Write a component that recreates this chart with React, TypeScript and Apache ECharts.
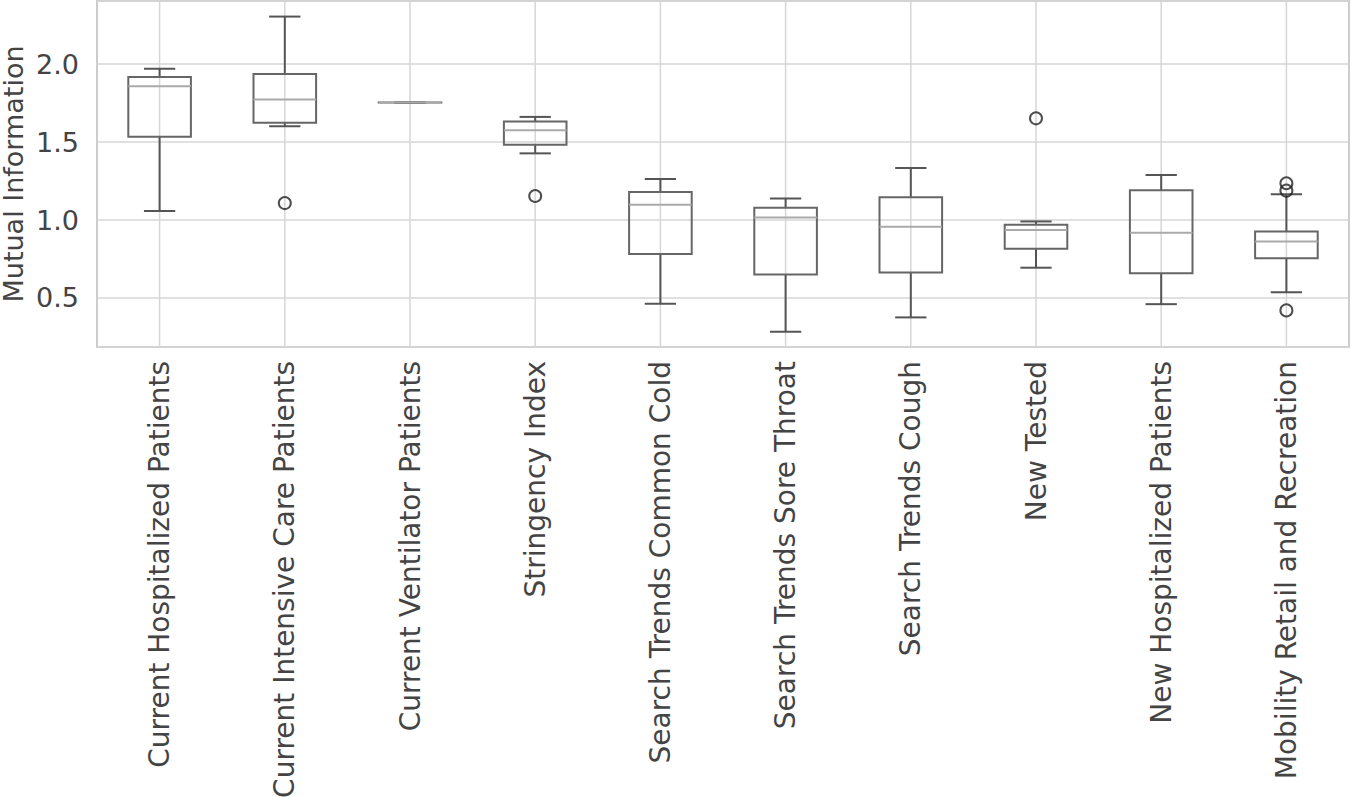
import React, { useEffect, useRef } from "react";
import * as echarts from "echarts";

const categories = [
  "Current Hospitalized Patients",
  "Current Intensive Care Patients",
  "Current Ventilator Patients",
  "Stringency Index",
  "Search Trends Common Cold",
  "Search Trends Sore Throat",
  "Search Trends Cough",
  "New Tested",
  "New Hospitalized Patients",
  "Mobility Retail and Recreation",
];
const whiskerLow = [1.058, 1.602, 1.754, 1.428, 0.462, 0.283, 0.375, 0.694, 0.46, 0.536];
const q1 = [1.535, 1.625, 1.754, 1.484, 0.782, 0.651, 0.664, 0.816, 0.658, 0.754];
const median = [1.859, 1.773, 1.754, 1.576, 1.098, 1.017, 0.957, 0.936, 0.918, 0.863];
const q3 = [1.918, 1.938, 1.754, 1.632, 1.18, 1.079, 1.146, 0.97, 1.191, 0.927];
const whiskerHigh = [1.971, 2.306, 1.754, 1.662, 1.264, 1.139, 1.334, 0.991, 1.289, 1.165];
const outliers: [number, number][] = [
  [1, 1.109],
  [3, 1.154],
  [7, 1.653],
  [9, 1.236],
  [9, 1.189],
  [9, 0.42],
];
const yMin = 0.185;
const yMax = 2.406;

const FONT = "DejaVu Sans";
const TEXT = "#444444";
const GRIDC = "#d6d6d6";

export default function App() {
  const ref = useRef<HTMLDivElement>(null);
  useEffect(() => {
    if (!ref.current) return;
    const chart = echarts.init(ref.current, null, { renderer: "svg" });
    const boxData = categories.map((_, i) => [i, whiskerLow[i], q1[i], median[i], q3[i], whiskerHigh[i]]);
    chart.setOption({
      animation: false,
      backgroundColor: "#ffffff",
      grid: {
        left: 97,
        right: 2,
        top: 1,
        bottom: 450,
        containLabel: false,
        outerBoundsMode: "none",
        show: true,
        borderColor: "#cccccc",
        borderWidth: 2,
        backgroundColor: "transparent",
      },
      xAxis: {
        type: "category",
        data: categories,
        boundaryGap: true,
        axisLine: { show: false },
        axisTick: { show: false },
        splitLine: { show: false },
        axisLabel: {
          rotate: 90,
          interval: 0,
          fontSize: 28,
          fontFamily: FONT,
          color: TEXT,
          margin: 14,
        },
      },
      yAxis: {
        type: "value",
        min: yMin,
        max: yMax,
        splitNumber: 5,
        name: "Mutual Information",
        nameLocation: "middle",
        nameGap: 73,
        nameMoveOverlap: false,
        nameTextStyle: { fontSize: 27, fontFamily: FONT, color: TEXT, lineHeight: 22 },
        axisLine: { show: false },
        axisTick: { show: false },
        splitLine: { show: true, lineStyle: { color: GRIDC, width: 1.5 } },
        axisLabel: {
          fontSize: 27,
          fontFamily: FONT,
          color: TEXT,
          margin: 18,
          showMinLabel: false,
          showMaxLabel: false,
          formatter: (v: number) => {
            const r = Math.round(v * 2) / 2;
            return Math.abs(r - v) < 1e-6 ? r.toFixed(1) : "";
          },
        },
      },
      series: [
        {
          type: "custom",
          z: 3,
          data: boxData,
          encode: { x: 0, y: [1, 2, 3, 4, 5] },
          renderItem: (params: any, api: any) => {
            const x = api.value(0);
            const lo = api.coord([x, api.value(1)]);
            const b1 = api.coord([x, api.value(2)]);
            const md = api.coord([x, api.value(3)]);
            const b3 = api.coord([x, api.value(4)]);
            const hi = api.coord([x, api.value(5)]);
            const band = api.size([1, 0])[0];
            const bw = band * 0.5;
            const cw = bw * 0.5;
            const cx = lo[0];
            const cs = params.coordSys;
            const boxStroke = { stroke: "#666666", lineWidth: 2, fill: "none" };
            const whStroke = { stroke: "#555555", lineWidth: 2 };
            return {
              type: "group",
              children: [
                {
                  type: "line",
                  shape: { x1: cx, y1: cs.y, x2: cx, y2: cs.y + cs.height },
                  style: { stroke: GRIDC, lineWidth: 1.5 },
                },
                {
                  type: "line",
                  shape: { x1: cx, y1: b3[1], x2: cx, y2: hi[1] },
                  style: whStroke,
                },
                {
                  type: "line",
                  shape: { x1: cx, y1: b1[1], x2: cx, y2: lo[1] },
                  style: whStroke,
                },
                {
                  type: "line",
                  shape: { x1: cx - cw / 2, y1: hi[1], x2: cx + cw / 2, y2: hi[1] },
                  style: whStroke,
                },
                {
                  type: "line",
                  shape: { x1: cx - cw / 2, y1: lo[1], x2: cx + cw / 2, y2: lo[1] },
                  style: whStroke,
                },
                {
                  type: "rect",
                  shape: { x: cx - bw / 2, y: b3[1], width: bw, height: Math.max(b1[1] - b3[1], 0.01) },
                  style: boxStroke,
                },
                {
                  type: "line",
                  shape: { x1: cx - bw / 2, y1: md[1], x2: cx + bw / 2, y2: md[1] },
                  style: { stroke: "#aaaaaa", lineWidth: 2 },
                },
              ],
            };
          },
        },
        {
          type: "scatter",
          z: 4,
          data: outliers,
          symbol: "circle",
          symbolSize: 12,
          itemStyle: { color: "rgba(0,0,0,0)", borderColor: "#222222", borderWidth: 2 },
        },
      ],
    });
    return () => chart.dispose();
  }, []);
  return (
    <div
      ref={ref}
      style={{ position: "absolute", left: 0, top: 0, width: 1351, height: 797 }}
    />
  );
}
